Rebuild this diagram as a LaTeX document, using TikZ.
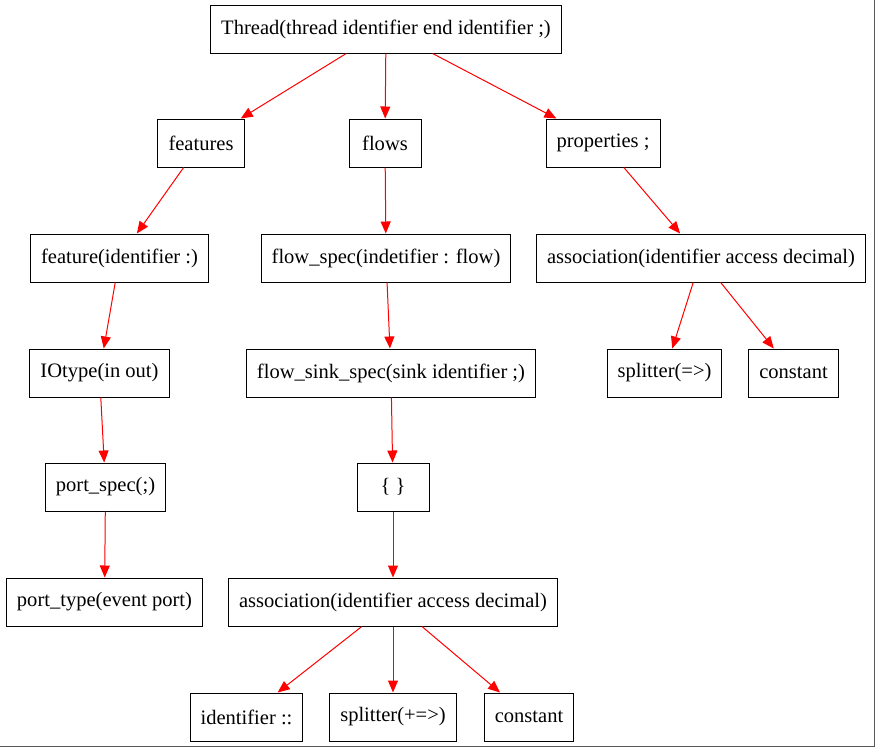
\documentclass[tikz,border=0pt]{standalone}
\usepackage{fontspec}
\setmainfont{Liberation Serif}
\usetikzlibrary{arrows.meta}

\begin{document}
\begin{tikzpicture}[x=0.75pt,y=-0.75pt]
\tikzset{every node/.style={draw=black, line width=0.75pt, rectangle, inner xsep=7.9pt, inner ysep=0pt,
    minimum width=54pt, minimum height=36pt, font=\fontsize{15.4pt}{17pt}\selectfont},
  edge/.style={draw=red, line width=0.75pt, -{Triangle[length=9pt,width=7.5pt]}}}
\useasboundingbox (0,0) rectangle (875,747);
\draw [gray!70!black, line width=0.75pt] (874.5,0) -- (874.5,746.5) -- (0,746.5);
% level 0
\node (thread) at (386,29) {Thread(thread identifier end identifier ;)};
% level 1
\node (features) at (201,143) {features};
\node (flows) at (385,143) {flows};
\node (props) at (603,143) {properties ;};
% level 2
\node (feature) at (119.5,258) {feature(identifier :)};
\node (flowspec) at (386,258) {flow\_spec(indetifier : flow)};
\node (assocA) at (701,258) {association(identifier access decimal)};
% level 3
\node (iotype) at (99.5,373) {IOtype(in out)};
\node (sinkspec) at (391,373) {flow\_sink\_spec(sink identifier ;)};
\node (splitA) at (664.5,373) {splitter(=>)};
\node (constA) at (793.5,373) {constant};
% level 4
\node (portspec) at (105.5,487) {port\_spec(;)};
\node (braces) at (393,487) {\{ \}};
% level 5
\node (porttype) at (104.5,602) {port\_type(event port)};
\node (assocB) at (393,602) {association(identifier access decimal)};
% level 6
\node (ident) at (246.5,717) {identifier ::};
\node (splitB) at (393,717) {splitter(+=>)};
\node (constB) at (529,717) {constant};
% edges
\draw [edge] (thread) -- (features);
\draw [edge] (thread) -- (flows);
\draw [edge] (thread) -- (props);
\draw [edge] (features) -- (feature);
\draw [edge] (feature) -- (iotype);
\draw [edge] (iotype) -- (portspec);
\draw [edge] (portspec) -- (porttype);
\draw [edge] (flows) -- (flowspec);
\draw [edge] (flowspec) -- (sinkspec);
\draw [edge] (sinkspec) -- (braces);
\draw [edge] (braces) -- (assocB);
\draw [edge] (assocB) -- (ident);
\draw [edge] (assocB) -- (splitB);
\draw [edge] (assocB) -- (constB);
\draw [edge] (props) -- (assocA);
\draw [edge] (assocA) -- (splitA);
\draw [edge] (assocA) -- (constA);
\end{tikzpicture}
\end{document}
